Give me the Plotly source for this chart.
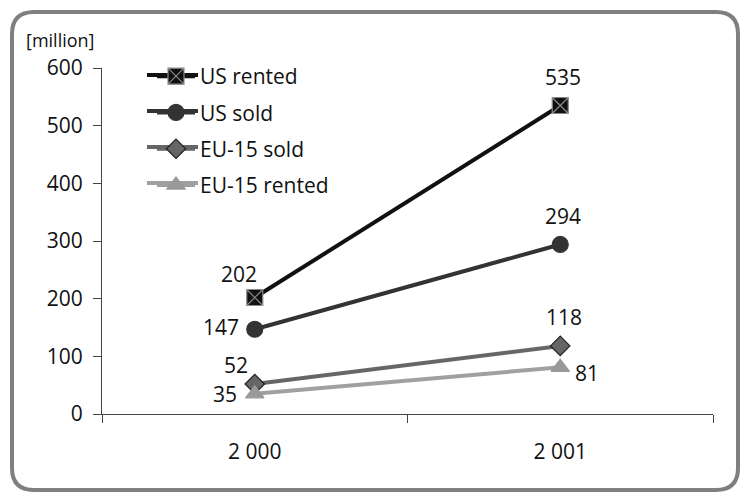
import plotly.graph_objects as go

years = ["2 000", "2 001"]
us_rented = [202, 535]
us_sold = [147, 294]
eu_sold = [52, 118]
eu_rented = [35, 81]

W, H = 744, 494
L, R, T, B = 102, 31, 68, 80

def px(x, y):
    return (x - L) / (W - L - R), (H - B - y) / (H - T - B)

font = "Open Sans, Noto Sans, sans-serif"
FS = 21

fig = go.Figure()
series = [
    ("US rented", us_rented, "#111111", "square-x", "#111111", "#8a8a8a", [(-16, 24), (3, 28)]),
    ("US sold", us_sold, "#333333", "circle", "#333333", "#333333", [(-34, 2), (3, 28)]),
    ("EU-15 sold", eu_sold, "#666666", "diamond", "#666666", "#222222", [(-19, 19), (4, 29)]),
    ("EU-15 rented", eu_rented, "#a0a0a0", "triangle-up", "#999999", "#999999", [(-30, 0), (27, -6)]),
]
legend_rows = [75, 111, 147, 183]
for i, (name, vals, lc, sym, mc, mlc, offs) in enumerate(series):
    fig.add_trace(go.Scatter(
        x=years, y=vals, name=name, mode="lines+markers", legendgroup=str(i),
        line=dict(color=lc, width=4),
        marker=dict(symbol=sym, size=16 if sym != "diamond" else 15, color=mc,
                    line=dict(color=mlc, width=1.2)),
        cliponaxis=False,
    ))
    for xv, yv, (dx, dy) in zip(years, vals, offs):
        fig.add_annotation(x=xv, y=yv, text=str(yv), showarrow=False,
                           xshift=dx, yshift=dy, xanchor="center", yanchor="middle",
                           font=dict(size=FS, color="#111111", family=font))
    # longer legend line sample
    a0, b0 = px(147, legend_rows[i])
    a1, _ = px(198, legend_rows[i])
    fig.add_shape(type="line", x0=a0, x1=a1, y0=b0, y1=b0, xref="paper", yref="paper",
                  line=dict(color=lc, width=4), layer="above")

# rounded border
x0, y0, x1, y1, r = 12, 12, 738, 490, 22
def P(x, y):
    a, b = px(x, y)
    return f"{a:.5f},{b:.5f}"
path = (f"M {P(x0 + r, y0)} L {P(x1 - r, y0)} Q {P(x1, y0)} {P(x1, y0 + r)} "
        f"L {P(x1, y1 - r)} Q {P(x1, y1)} {P(x1 - r, y1)} "
        f"L {P(x0 + r, y1)} Q {P(x0, y1)} {P(x0, y1 - r)} "
        f"L {P(x0, y0 + r)} Q {P(x0, y0)} {P(x0 + r, y0)} Z")
fig.add_shape(type="path", path=path, xref="paper", yref="paper",
              line=dict(color="#7f7f7f", width=4), layer="below")

ax, ay = px(24, 40)
fig.add_annotation(text="[million]", x=ax, y=ay, xref="paper", yref="paper",
                   xanchor="left", yanchor="middle", showarrow=False,
                   font=dict(size=18, color="#111111", family=font))

fig.update_layout(
    width=W, height=H,
    margin=dict(l=L, r=R, t=T, b=B),
    paper_bgcolor="white", plot_bgcolor="white",
    font=dict(family=font, size=FS, color="#111111"),
    showlegend=True,
    legend=dict(x=px(152, 0)[0], y=px(0, 56)[1], xanchor="left", yanchor="top",
                bgcolor="rgba(0,0,0,0)", font=dict(size=FS, family=font, color="#111111"),
                itemwidth=38, tracegroupgap=6),
    xaxis=dict(type="category", range=[-0.5, 1.5], tickson="boundaries",
               showline=True, linecolor="#444444", linewidth=1,
               ticks="outside", ticklen=8, tickcolor="#444444", ticklabelstandoff=19,
               showgrid=False, zeroline=False, tickfont=dict(size=FS)),
    yaxis=dict(range=[0, 600], dtick=100, showline=True, linecolor="#444444", linewidth=1,
               ticks="outside", ticklen=8, tickcolor="#444444", ticklabelstandoff=6,
               showgrid=False, zeroline=False, tickfont=dict(size=FS)),
)
fig.write_html("out.html", config={"displayModeBar": False},
               post_script="document.body.style.margin='0';")
